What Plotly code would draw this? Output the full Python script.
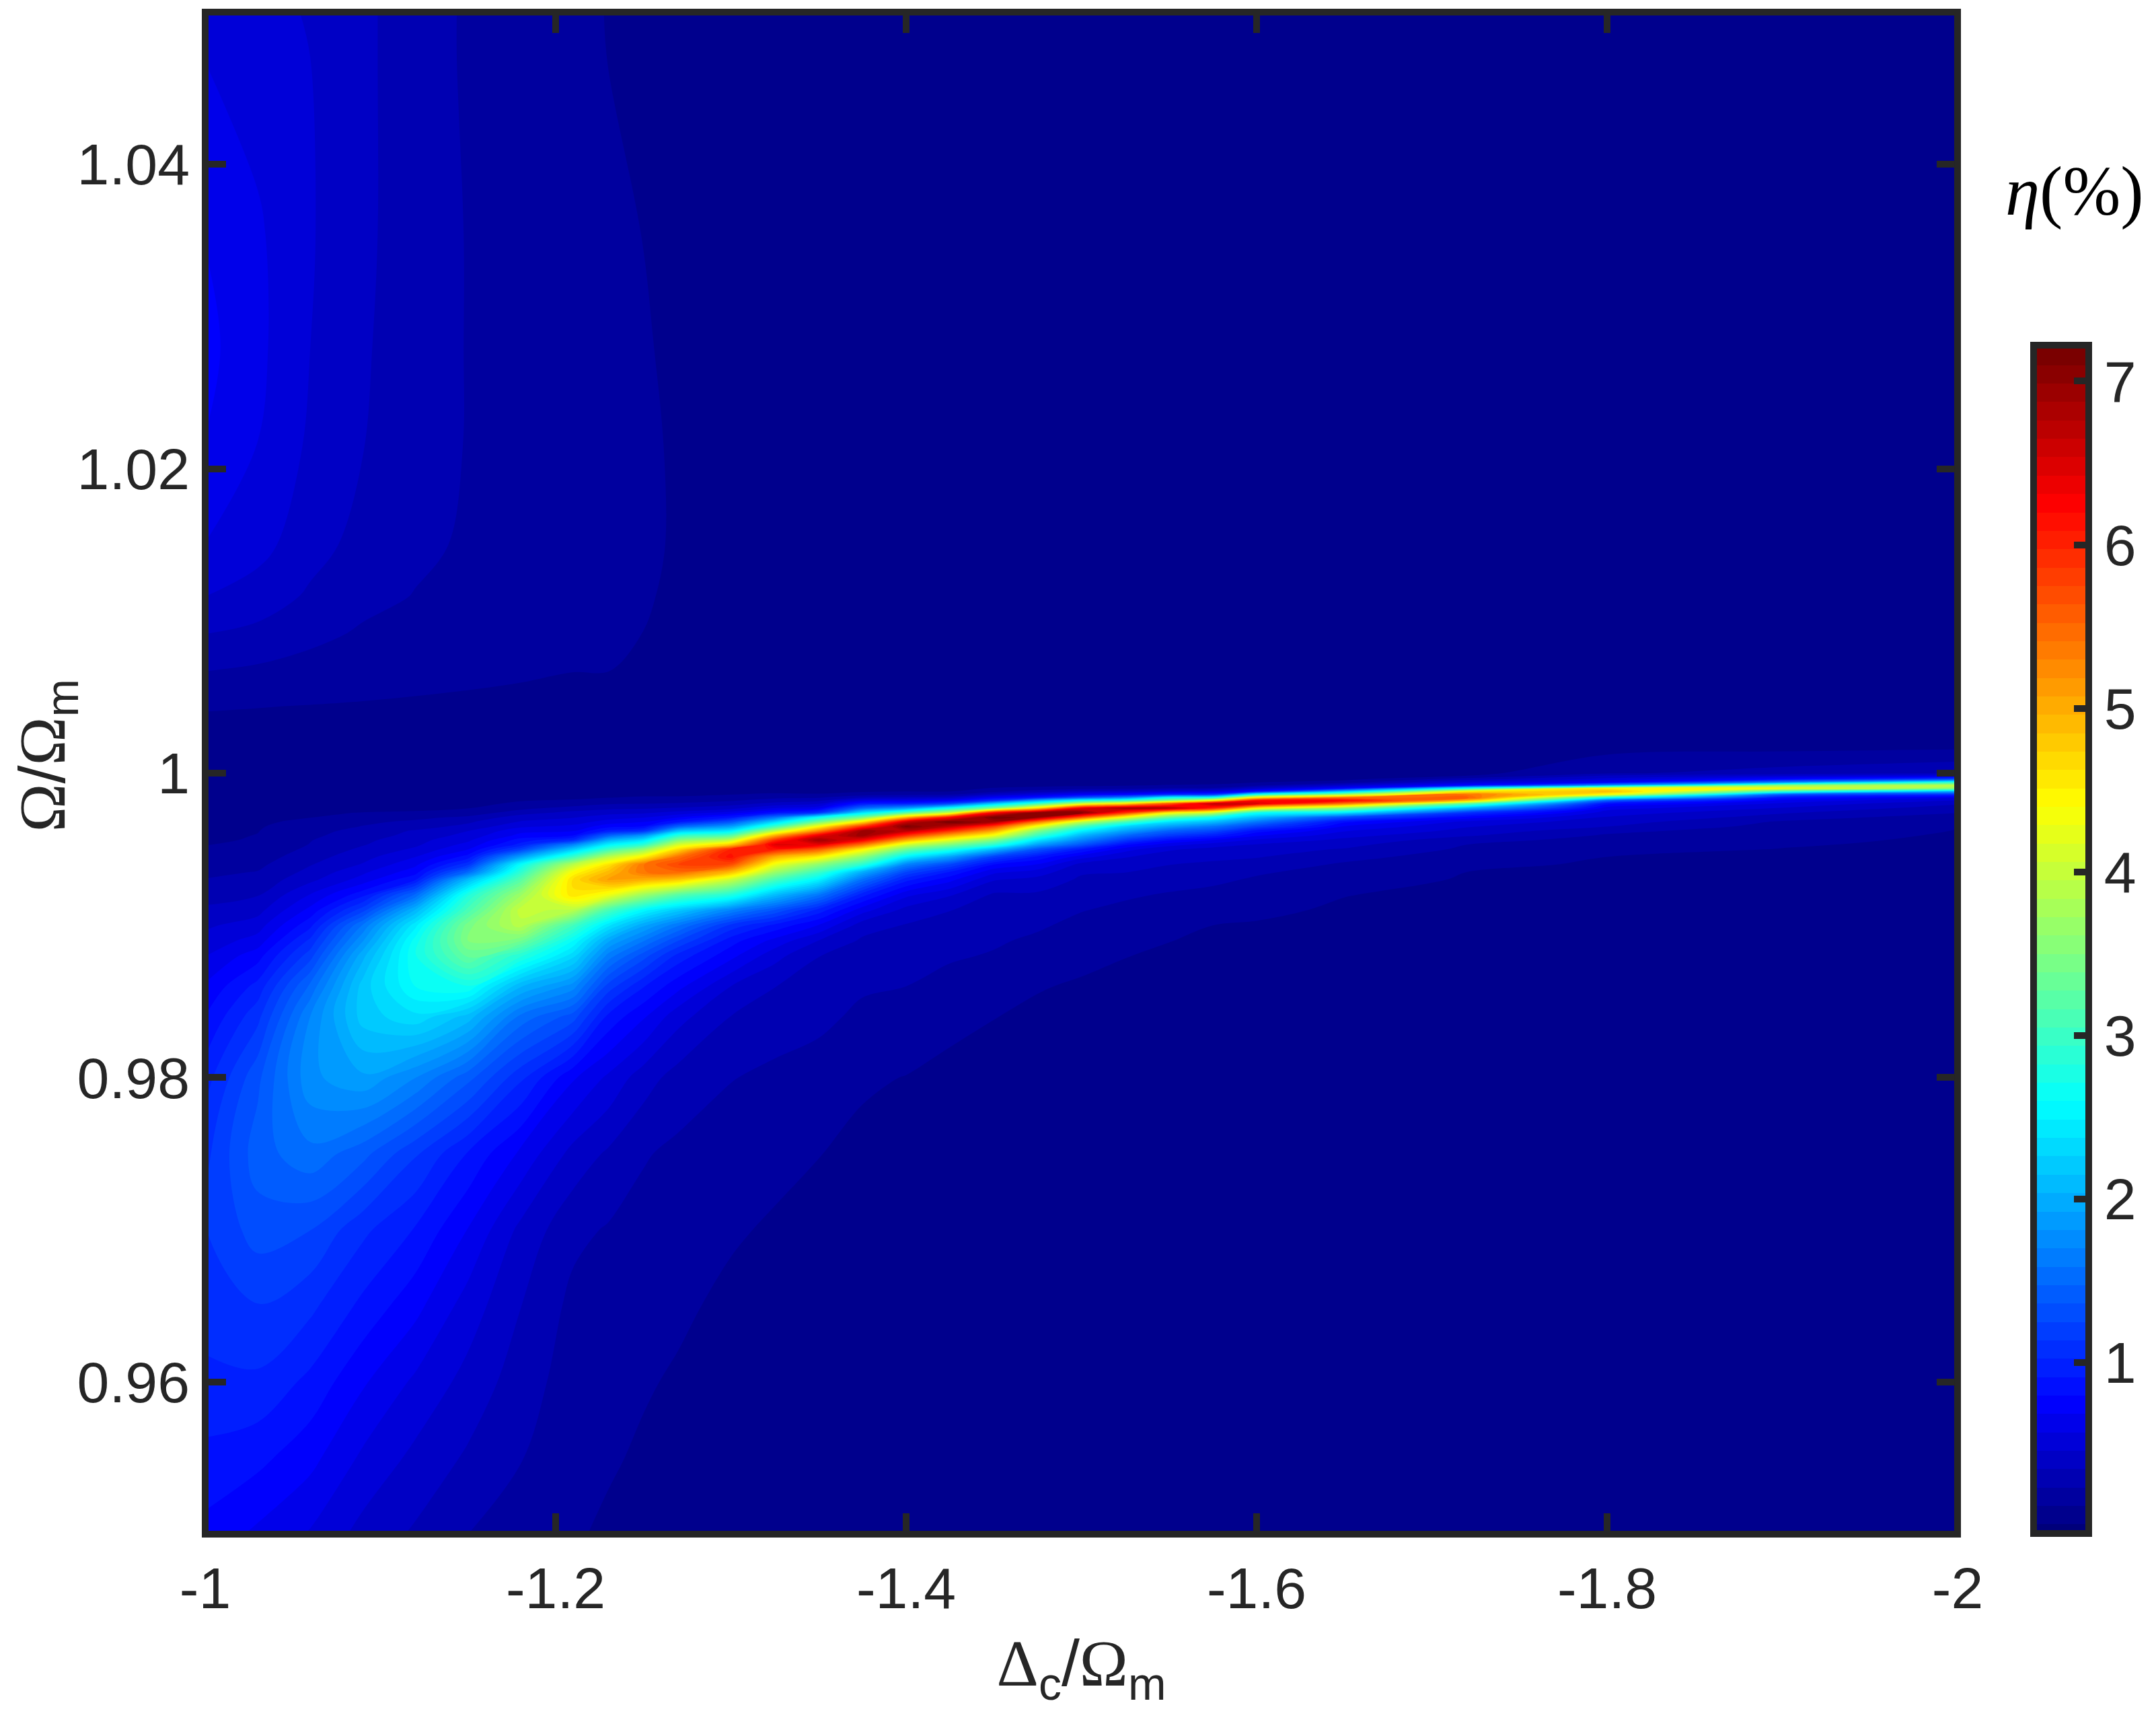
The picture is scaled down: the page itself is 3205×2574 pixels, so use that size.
import numpy as np
import plotly.graph_objects as go

W, H = 3205, 2574
L, R, T, B = 304.5, 2910, 18, 2280
INK = "#262626"

omega_ratio = [0.95,0.955,0.96,0.965,0.97,0.975,0.98,0.984,0.986,0.988,0.989,0.99,
               0.991,0.992,0.993,0.9935,0.994,0.9945,0.995,
               0.9953,0.9956,0.9959,0.9962,0.9965,0.9968,0.9971,0.9974,0.9977,0.998,
               0.9982,0.9984,0.9986,0.9988,0.999,0.9992,0.9994,0.9996,0.9998,1.0,1.002,
               1.0044,1.0068,1.0092,1.0116,1.015,1.0214,1.028,1.0354,1.047,1.05]
delta_ratio = [-1,-1.03,-1.06,-1.09,-1.12,-1.15,-1.18,-1.21,-1.23,-1.25,-1.27,-1.3,-1.325,-1.35,-1.375,
               -1.4,-1.425,-1.45,-1.475,-1.5,-1.525,-1.55,-1.575,-1.6,-1.65,-1.72,-1.8,-1.9,-2]

c00 = [.76,.88,.99,1.08,1.13,1.10,.97,.80,.70,.57,.50,.44, .37,.30,.24,.21,.18,.155,.13,
       .12,.11,.105,.10,.095,.09,.085,.08,.08,.07, .07,.07,.06,.06,.06,.06,.06,.06,.06,.06,.08,
       .13,.24,.35,.46,.57,.68,.72,.68,.57,.54]
c01 = [.66,.83,1.0,1.13,1.3,1.42,1.33,1.1,.95,.75,.62,.52, .42,.34,.27,.24,.21,.18,.15,
       .14,.13,.125,.12,.115,.11,.105,.09,.085,.08, .08,.07,.07,.07,.07,.07,.07,.07,.06,.06,.08,
       .125,.22,.32,.41,.50,.57,.60,.59,.52,.50]
c02 = [.56,.72,.88,1.05,1.25,1.55,1.78,1.7,1.5,1.2,1.05,.88, .72,.58,.43,.38,.34,.30,.26,
       .24,.23,.21,.19,.165,.14,.12,.11,.10,.09, .09,.09,.08,.08,.08,.08,.07,.07,.07,.07,.08,
       .12,.19,.27,.33,.39,.44,.46,.47,.46,.45]
c03 = [.42,.55,.70,.88,1.05,1.4,1.9,2.2,2.2,2.0,1.8,1.6, 1.2,.87,.62,.55,.47,.42,.37,
       .34,.32,.30,.28,.24,.21,.17,.125,.10,.10, .10,.09,.09,.09,.09,.08,.08,.08,.07,.07,.08,
       .115,.17,.22,.27,.31,.35,.36,.37,.37,.37]
c04 = [.33,.43,.55,.72,.90,1.15,1.7,2.34,2.6,2.7,2.65,2.45, 2.05,1.5,.9,.75,.66,.57,.48,
       .44,.42,.38,.36,.30,.26,.20,.13,.11,.10, .10,.10,.09,.09,.09,.08,.08,.08,.07,.07,.08,
       .11,.155,.19,.23,.26,.28,.29,.29,.29,.29]
c05 = [.235,.33,.42,.52,.68,.9,1.4,2.1,2.7,3.3,3.5,3.45, 3.1,2.8,2.1,1.5,1.1,.85,.68,
       .61,.55,.50,.46,.38,.33,.26,.16,.12,.11, .10,.10,.09,.09,.08,.08,.08,.07,.07,.06,.08,
       .105,.145,.165,.19,.22,.23,.23,.23,.22,.22]
c06 = [.18,.24,.29,.35,.43,.66,1.05,1.55,2.05,2.85,3.4,3.9, 4.0,3.7,3.2,2.9,2.6,1.9,1.2,
       .95,.85,.72,.65,.55,.47,.40,.30,.20,.13, .12,.10,.09,.09,.08,.08,.07,.07,.06,.06,.07,
       .10,.135,.15,.165,.18,.19,.19,.18,.18,.18]
c07 = [.135,.155,.18,.205,.265,.42,.70,1.3,1.75,2.3,2.6,3.05, 3.9,4.6,4.65,4.4,3.9,3.0,2.2,
       1.7,1.05,.80,.68,.60,.52,.45,.38,.28,.17, .13,.11,.10,.09,.09,.08,.08,.07,.06,.05,.06,
       .09,.125,.135,.145,.155,.155,.155,.15,.14,.14]
c08 = [.105,.135,.165,.19,.225,.33,.55,.88,1.2,1.65,1.95,2.4, 3.1,4.3,5.1,4.9,4.6,3.9,3.0,
       2.5,2.0,1.45,.95,.75,.62,.52,.42,.32,.22, .16,.12,.10,.09,.08,.08,.07,.07,.06,.05,.05,
       .09,.125,.135,.14,.142,.14,.134,.128,.122,.12]
c09 = [.085,.108,.133,.16,.195,.245,.40,.70,.92,1.3,1.6,1.95, 2.55,3.7,5.0,5.4,5.4,4.5,3.6,
       2.9,2.4,1.85,1.1,.8,.68,.56,.44,.33,.23, .17,.13,.11,.09,.08,.08,.07,.07,.06,.05,.05,
       .07,.10,.122,.132,.135,.133,.128,.122,.115,.11]
c10 = [.06,.08,.11,.14,.17,.21,.30,.50,.72,.98,1.25,1.6, 2.2,3.2,4.8,5.5,5.75,5.45,4.65,
       4.1,3.5,2.9,2.15,1.45,.9,.68,.5,.36,.25, .18,.13,.11,.09,.08,.07,.07,.07,.06,.05,.05,
       .06,.085,.095,.105,.115,.115,.11,.105,.10,.10]
c11 = [.04,.055,.075,.10,.135,.17,.24,.345,.46,.72,.85,1.1, 1.7,2.8,4.0,4.9,5.7,6.15,6.0,
       4.8,4.0,3.2,2.5,1.9,1.35,.9,.62,.42,.30, .22,.16,.12,.10,.08,.07,.07,.06,.06,.05,.05,
       .05,.07,.08,.09,.09,.09,.09,.09,.09,.09]
c12 = [.035,.045,.06,.08,.11,.15,.21,.29,.35,.50,.65,.88, 1.35,2.1,3.1,3.7,4.3,5.0,6.1,
       6.45,5.9,5.0,3.95,3.0,2.3,1.55,.85,.58,.38, .3,.2,.14,.1,.08,.07,.07,.06,.06,.05,.05,
       .05,.06,.07,.08,.08,.08,.08,.08,.08,.08]
c13 = [.03,.04,.05,.065,.09,.125,.18,.265,.31,.35,.46,.68, .98,1.6,2.5,3.0,3.6,4.5,5.6,
       6.4,6.9,6.4,5.3,4.4,3.4,2.6,1.1,.65,.45, .32,.22,.13,.10,.08,.07,.07,.06,.06,.05,.05,
       .05,.05,.05,.06,.06,.07,.07,.07,.07,.07]
c14 = [.03,.035,.045,.055,.075,.10,.135,.21,.25,.30,.33,.40, .62,.95,1.55,2.0,2.9,3.6,4.5,
       5.4,6.3,6.95,6.95,5.9,4.6,3.4,2.4,1.5,.9, .6,.35,.18,.11,.09,.08,.07,.06,.06,.05,.05,
       .05,.05,.05,.05,.05,.06,.06,.06,.06,.06]
c15 = [.025,.03,.04,.05,.065,.085,.12,.18,.235,.285,.31,.34, .42,.60,.95,1.25,1.7,2.5,3.4,
       4.1,5.0,5.9,6.7,7.15,6.6,4.9,3.2,1.9,.95, .62,.38,.2,.12,.09,.08,.07,.06,.06,.05,.05,
       .05,.05,.05,.05,.05,.05,.05,.05,.05,.05]
c16 = [.02,.03,.035,.04,.055,.07,.095,.15,.19,.25,.28,.31, .35,.47,.72,.9,1.25,1.9,2.85,
       3.5,4.2,5.0,5.9,6.7,7.2,6.2,4.0,2.7,1.2, .72,.42,.22,.12,.09,.08,.07,.06,.06,.05,.04,
       .05,.05,.05,.05,.05,.05,.05,.05,.05,.05]
c17 = [.02,.025,.03,.04,.05,.065,.085,.125,.175,.225,.25,.28, .31,.33,.47,.60,.80,1.2,2.1,
       2.9,3.5,4.3,5.0,5.8,6.9,7.2,6.2,3.5,2.2, 1.1,.7,.4,.2,.13,.09,.08,.07,.06,.05,.04,
       .04,.04,.04,.04,.04,.04,.04,.04,.04,.04]
c18 = [.02,.02,.03,.035,.045,.055,.07,.10,.13,.185,.215,.25, .29,.33,.42,.52,.68,.88,1.35,
       1.9,2.4,3.0,3.5,4.3,5.4,7.0,7.1,4.7,3.0, 2.0,.9,.55,.3,.15,.1,.08,.07,.06,.05,.04,
       .04,.04,.04,.04,.04,.04,.04,.04,.04,.04]
c19 = [.02,.02,.025,.03,.04,.05,.06,.09,.11,.15,.175,.205, .24,.29,.33,.36,.42,.62,.92,
       1.35,1.7,2.05,2.5,3.1,4.0,5.6,7.1,6.4,4.0, 2.7,1.35,.7,.38,.18,.10,.08,.07,.06,.05,.04,
       .04,.04,.04,.04,.04,.04,.04,.04,.04,.04]
c20 = [.02,.02,.025,.03,.035,.045,.055,.08,.10,.125,.15,.18, .21,.25,.31,.35,.38,.47,.62,
       .82,1.15,1.5,1.9,2.3,3.1,4.3,5.9,6.9,4.6, 3.0,1.7,.8,.42,.2,.11,.08,.07,.06,.05,.04,
       .04,.04,.04,.04,.04,.04,.04,.04,.04,.04]
c21 = [.02,.02,.02,.025,.03,.04,.05,.07,.085,.105,.125,.15, .185,.225,.28,.31,.35,.39,.48,
       .62,.82,1.15,1.45,1.9,2.4,3.3,4.5,6.8,5.6, 3.6,2.6,1.0,.5,.24,.13,.09,.07,.06,.05,.04,
       .04,.04,.04,.04,.04,.04,.04,.04,.04,.04]
c22 = [.02,.02,.02,.025,.03,.035,.045,.06,.075,.095,.105,.1225, .155,.2,.26,.29,.33,.37,.42,
       .52,.68,.95,1.25,1.6,2.1,2.7,4.0,6.0,6.7, 4.5,2.75,1.1,.55,.25,.14,.09,.07,.06,.05,.04,
       .04,.04,.04,.04,.04,.04,.04,.04,.04,.04]
c23 = [.02,.02,.02,.025,.03,.035,.04,.055,.07,.09,.10,.115, .14,.18,.22,.25,.30,.355,.39,
       .45,.55,.7,.85,1.2,1.6,2.1,2.7,4.5,6.5, 6.2,4.5,2.7,.85,.45,.2,.12,.08,.06,.05,.04,
       .04,.04,.04,.04,.04,.04,.04,.04,.04,.04]
c24 = [.02,.02,.02,.02,.03,.03,.04,.05,.06,.07,.08,.09, .11,.125,.16,.19,.22,.27,.34,
       .38,.43,.5,.58,.68,.82,1.3,2.4,3.6,5.4, 6.3,5.4,3.7,2.2,.8,.45,.18,.09,.06,.05,.04,
       .04,.04,.04,.04,.04,.04,.04,.04,.04,.04]
c25 = [.02,.02,.02,.02,.02,.03,.03,.04,.05,.06,.07,.08, .09,.10,.115,.1225,.145,.18,.215,
       .235,.28,.36,.42,.47,.54,.75,1.1,2.0,3.3, 4.9,5.6,5.4,4.5,2.7,.8,.5,.3,.13,.09,.05,
       .04,.04,.04,.04,.04,.04,.04,.04,.04,.04]
c26 = [.02,.02,.02,.02,.02,.02,.03,.03,.04,.05,.05,.06, .07,.08,.095,.105,.11,.1225,.15,
       .17,.19,.22,.265,.35,.40,.45,.52,.62,.85, 1.4,2.7,4.4,4.9,4.5,1.8,.7,.5,.38,.22,.06,
       .04,.04,.04,.04,.04,.04,.04,.04,.04,.04]
c27 = [.02,.02,.02,.02,.02,.02,.02,.03,.03,.03,.03,.03, .05,.06,.07,.08,.085,.10,.12,
       .13,.14,.15,.17,.19,.22,.30,.36,.45,.55, .65,.88,1.4,3.0,4.35,3.6,1.7,.8,.5,.28,.06,
       .04,.03,.03,.03,.03,.03,.03,.03,.03,.03]
c28 = [.02,.02,.02,.02,.02,.02,.02,.02,.03,.03,.03,.03, .04,.05,.06,.07,.08,.09,.10,
       .105,.11,.115,.12,.125,.14,.17,.24,.29,.36, .45,.6,1.05,2.0,3.6,3.95,2.9,1.3,.62,.34,.06,
       .04,.03,.03,.03,.03,.03,.03,.03,.03,.03]

columns = [c00,c01,c02,c03,c04,c05,c06,c07,c08,c09,c10,c11,c12,c13,c14,c15,c16,c17,c18,c19,
           c20,c21,c22,c23,c24,c25,c26,c27,c28]
eta = np.array(columns).T.tolist()

x_ticks = [-1,-1.2,-1.4,-1.6,-1.8,-2]
x_labels = ["-1","-1.2","-1.4","-1.6","-1.8","-2"]
y_ticks = [0.96,0.98,1,1.02,1.04]
y_labels = ["0.96","0.98","1","1.02","1.04"]
cb_ticks = [1,2,3,4,5,6,7]
jet = [[0,"#00007a"],[0.111,"#0000ff"],[0.365,"#00ffff"],[0.619,"#ffff00"],[0.873,"#ff0000"],[1,"#7a0000"]]

PW, ph = W-L, B-T
FONT = "Liberation Sans, Arial, sans-serif"
tickfont = dict(family=FONT, size=86, color=INK)
GREEK = "font-family:'Liberation Serif',serif"

fig = go.Figure(go.Contour(
    x=delta_ratio, y=omega_ratio, z=eta,
    colorscale=jet, zmin=0, zmax=7.22,
    contours=dict(coloring="fill", start=0.01, end=7.1, size=0.1125, showlines=False),
    line=dict(width=0),
    colorbar=dict(
        thickness=82, thicknessmode="pixels", len=1766, lenmode="pixels",
        x=(3023-L)/PW, xanchor="left", xpad=0,
        y=(B-2279)/ph, yanchor="bottom", ypad=0,
        outlinecolor=INK, outlinewidth=10, borderwidth=0,
        tickmode="array", tickvals=cb_ticks, ticktext=[str(t) for t in cb_ticks],
        ticks="inside", ticklen=27, tickwidth=10, tickcolor=INK,
        tickfont=tickfont,
    ),
))

fig.update_layout(
    width=W, height=H, autosize=False,
    margin=dict(l=L, r=0, t=T, b=H-B, pad=0, autoexpand=False),
    paper_bgcolor="white", plot_bgcolor="#000080", showlegend=False,
    xaxis=dict(domain=[0,(R-L)/PW], range=[-1,-2], tickmode="array", tickvals=x_ticks, ticktext=x_labels,
               ticks="inside", ticklen=31, tickwidth=10, tickcolor=INK, mirror="ticks",
               showgrid=False, zeroline=False, showline=False, tickfont=tickfont,
               ticklabelstandoff=23,
               title=dict(text=f"<span style=\"{GREEK}\">Δ</span><sub>c</sub>/<span style=\"{GREEK}\">Ω</span><sub>m</sub>",
                          font=dict(family=FONT, size=97, color=INK), standoff=30)),
    yaxis=dict(range=[0.95,1.05], tickmode="array", tickvals=y_ticks, ticktext=y_labels,
               ticks="inside", ticklen=31, tickwidth=10, tickcolor=INK, mirror="ticks",
               showgrid=False, zeroline=False, showline=False, tickfont=tickfont,
               ticklabelstandoff=22),
    shapes=[dict(type="rect", xref="x domain", yref="y domain", x0=0, x1=1, y0=0, y1=1,
                 line=dict(color=INK, width=10), layer="above")],
    annotations=[
        dict(text="<i>η</i>(%)", xref="paper", yref="paper",
             x=(3084-L)/PW, y=(B-284)/ph, xanchor="center", yanchor="middle",
             showarrow=False, font=dict(family="Liberation Serif, serif", size=103, color="black")),
        dict(text=f"<span style=\"{GREEK}\">Ω</span>/<span style=\"{GREEK}\">Ω</span><sub>m</sub>",
             xref="paper", yref="paper", x=(68-L)/PW, y=(B-1123)/ph, xanchor="center", yanchor="middle",
             textangle=-90, showarrow=False, font=dict(family=FONT, size=97, color=INK)),
    ],
)

fig.write_html("out.html", config={"displayModeBar": False}, post_script="document.body.style.margin='0';")
